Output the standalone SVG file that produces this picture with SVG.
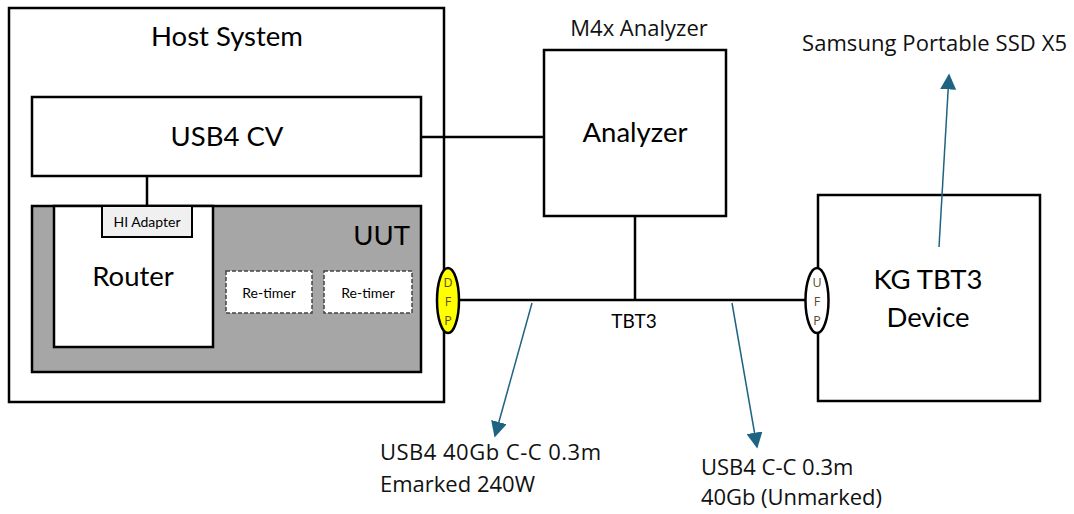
<svg xmlns="http://www.w3.org/2000/svg" width="1074" height="514" viewBox="0 0 1074 514">
<style>
.box{fill:#fff;stroke:#000;stroke-width:2.5}
.ln{stroke:#000;stroke-width:2.5;fill:none}
.t{font-family:Lato,"Open Sans",sans-serif;fill:#000}
.big{font-size:27.5px}
.sm{font-size:14px}
.port{font-family:"Open Sans",sans-serif;font-size:12.5px;fill:#5a4a30}
.lbl{font-family:"Open Sans","Noto Sans",sans-serif;font-size:22px;fill:#111}
.ar{stroke:#1f6383;stroke-width:1.5;fill:none;marker-end:url(#ah)}
</style>
<defs>
<marker id="ah" viewBox="0 0 10 10" refX="9" refY="5" markerWidth="16" markerHeight="16" markerUnits="userSpaceOnUse" orient="auto">
<path d="M0,0 L10,5 L0,10 z" fill="#1f6383"/>
</marker>
</defs>
<g id="host">
<rect class="box" x="9" y="8" width="435" height="394" stroke-width="2"/>
<text class="t big" x="227" y="46" text-anchor="middle">Host System</text>
</g>
<g id="usb4cv">
<rect class="box" x="32" y="97" width="389" height="79"/>
<text class="t big" x="227" y="146" text-anchor="middle">USB4 CV</text>
</g>
<g id="uut">
<rect x="32" y="206" width="389" height="166" fill="#a6a6a6" stroke="#000" stroke-width="2.5"/>
<text class="t big" x="410" y="245" text-anchor="end">UUT</text>
</g>
<g id="router">
<rect class="box" x="54" y="206" width="159" height="141"/>
<text class="t big" x="133" y="286" text-anchor="middle">Router</text>
</g>
<g id="hi-adapter">
<rect x="102" y="206" width="90" height="31" fill="#f0f0f0" stroke="#000" stroke-width="2"/>
<text class="t sm" x="147" y="227" text-anchor="middle">HI Adapter</text>
</g>
<g id="retimer1">
<rect x="226" y="271" width="86" height="42" fill="#fff" stroke="#444" stroke-width="1.5" stroke-dasharray="4,2"/>
<text class="t sm" x="269" y="298" text-anchor="middle">Re-timer</text>
</g>
<g id="retimer2">
<rect x="324" y="271" width="88" height="42" fill="#fff" stroke="#444" stroke-width="1.5" stroke-dasharray="4,2"/>
<text class="t sm" x="368" y="298" text-anchor="middle">Re-timer</text>
</g>
<g id="analyzer">
<rect class="box" x="544" y="50" width="182" height="166"/>
<text class="t big" x="635" y="142" text-anchor="middle">Analyzer</text>
<text class="lbl" x="639" y="36" text-anchor="middle" font-size="21.5">M4x Analyzer</text>
</g>
<g id="kg-device">
<rect class="box" x="818" y="195" width="222" height="206"/>
<text class="t big" x="928" y="289" text-anchor="middle">KG TBT3</text>
<text class="t big" x="928" y="327" text-anchor="middle">Device</text>
</g>
<g id="connectors">
<line class="ln" x1="421" y1="137" x2="544" y2="137"/>
<line class="ln" x1="147" y1="176" x2="147" y2="206"/>
<line class="ln" x1="459" y1="300" x2="806" y2="300"/>
<line class="ln" x1="635" y1="216" x2="635" y2="300"/>
<path class="ar" d="M532,303 L495,436"/>
<path class="ar" d="M732,303 L757,447"/>
<path class="ar" d="M939,247 L949,75"/>
<text class="t" x="634" y="328" text-anchor="middle" font-size="19">TBT3</text>
</g>
<g id="dfp">
<ellipse cx="448" cy="300.5" rx="11" ry="32.5" fill="#ffff00" stroke="#000" stroke-width="2.5"/>
<text class="port" x="448" y="287" text-anchor="middle">D</text>
<text class="port" x="448" y="306" text-anchor="middle">F</text>
<text class="port" x="448" y="325" text-anchor="middle">P</text>
</g>
<g id="ufp">
<ellipse cx="817" cy="300.5" rx="11.5" ry="32.5" fill="#fff" stroke="#000" stroke-width="2.5"/>
<text class="port" x="817" y="287" text-anchor="middle">U</text>
<text class="port" x="817" y="306" text-anchor="middle">F</text>
<text class="port" x="817" y="325" text-anchor="middle">P</text>
</g>
<g id="labels">
<text class="lbl" x="802" y="51" textLength="265">Samsung Portable SSD X5</text>
<text class="lbl" x="380" y="460" textLength="221">USB4 40Gb C-C 0.3m</text>
<text class="lbl" x="380" y="492">Emarked 240W</text>
<text class="lbl" x="701" y="475">USB4 C-C 0.3m</text>
<text class="lbl" x="701" y="505" textLength="181">40Gb (Unmarked)</text>
</g>
</svg>
